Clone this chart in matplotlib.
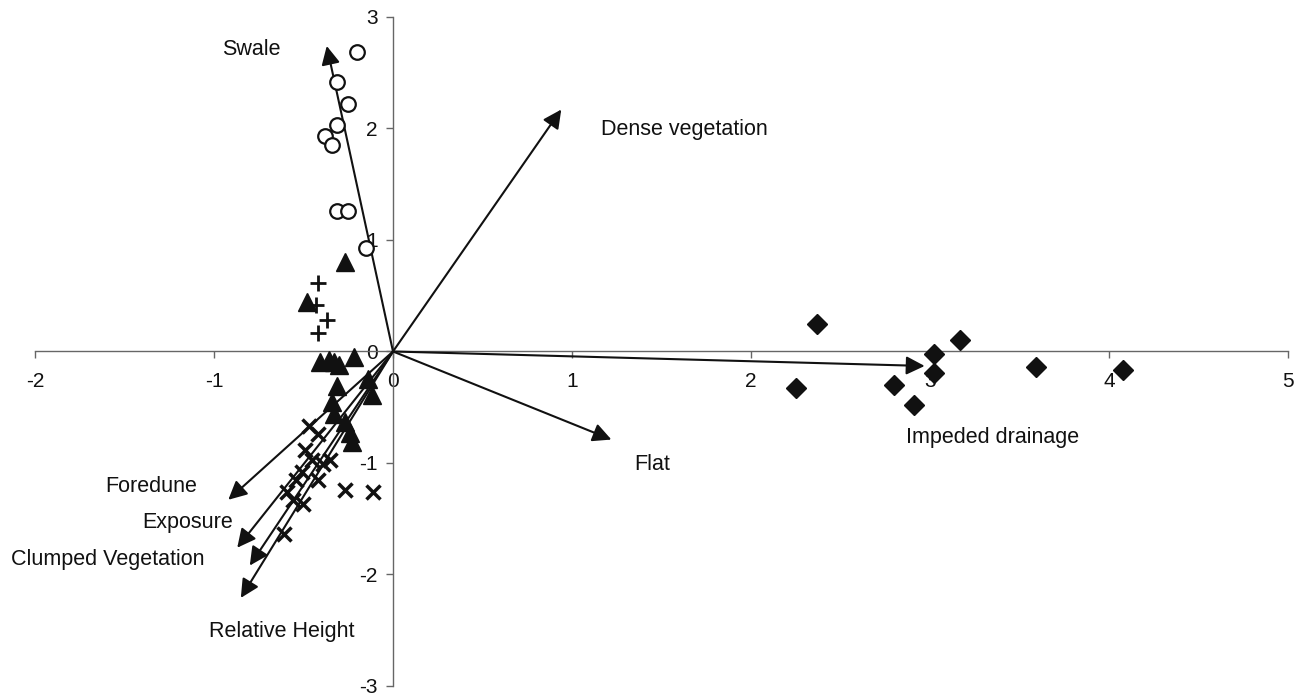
import matplotlib
matplotlib.use("Agg")
import matplotlib.pyplot as plt

plt.rcParams["font.family"] = ["Liberation Sans", "DejaVu Sans"]
plt.rcParams["axes.unicode_minus"] = False

# ── Data ──────────────────────────────────────────────────────────────────────
circle_x = [-0.20, -0.31, -0.25, -0.31, -0.38, -0.34, -0.31, -0.25, -0.15]
circle_y = [2.69, 2.42, 2.22, 2.03, 1.93, 1.85, 1.26, 1.26, 0.93]

tri_x = [-0.27, -0.48, -0.41, -0.36, -0.33, -0.30, -0.22, -0.31, -0.14,
         -0.12, -0.34, -0.33, -0.27, -0.24, -0.23]
tri_y = [0.80, 0.44, -0.09, -0.08, -0.09, -0.12, -0.05, -0.31, -0.25,
         -0.39, -0.45, -0.56, -0.63, -0.73, -0.81]

plus_x = [-0.42, -0.43, -0.37, -0.42]
plus_y = [0.61, 0.42, 0.28, 0.17]

cross_x = [-0.47, -0.42, -0.49, -0.45, -0.35, -0.39, -0.51, -0.42, -0.54,
           -0.59, -0.56, -0.50, -0.61, -0.27, -0.11]
cross_y = [-0.67, -0.74, -0.88, -0.97, -0.97, -1.01, -1.08, -1.15, -1.15,
           -1.26, -1.33, -1.37, -1.64, -1.24, -1.26]

diamond_x = [2.37, 2.25, 2.80, 2.91, 3.02, 3.02, 3.17, 3.59, 4.08]
diamond_y = [0.25, -0.33, -0.30, -0.48, -0.02, -0.19, 0.10, -0.14, -0.17]

# environmental vectors (arrow tips) and their labels
vec_names = ["Swale", "Dense vegetation", "Impeded drainage", "Flat",
             "Foredune", "Exposure", "Clumped Vegetation", "Relative Height"]
vec_x = [-0.37, 0.94, 2.97, 1.22, -0.92, -0.87, -0.80, -0.85]
vec_y = [2.74, 2.17, -0.13, -0.79, -1.33, -1.76, -1.92, -2.21]
label_x = [-0.953, 1.16, 2.865, 1.35, -1.61, -1.40, -2.135, -1.026]
label_y = [2.71, 1.99, -0.77, -1.01, -1.21, -1.53, -1.865, -2.51]

x_ticks = [-2, -1, 0, 1, 2, 3, 4, 5]
y_ticks = [-3, -2, -1, 0, 1, 2, 3]

# ── Figure ────────────────────────────────────────────────────────────────────
fig = plt.figure(figsize=(13.05, 6.96), dpi=100)
ax = fig.add_axes([0.0268, 0.0144, 0.9602, 0.9612])

ax.set_xlim(-2, 5)
ax.set_ylim(-3, 3)

# arrows
for tx, ty in zip(vec_x, vec_y):
    ax.annotate("", xy=(tx, ty), xytext=(0, 0),
                arrowprops=dict(arrowstyle="-|>", mutation_scale=28,
                                lw=1.5, color="#111111",
                                shrinkA=0, shrinkB=0), zorder=3)

ax.plot(circle_x, circle_y, "o", ms=10.5, mfc="white", mec="#111111",
        mew=1.6, ls="none", zorder=4)
ax.plot(tri_x, tri_y, "^", ms=12.5, color="#111111", ls="none", zorder=4)
ax.plot(plus_x, plus_y, "+", ms=11, mew=2.0, color="#111111", ls="none", zorder=4)
ax.plot(cross_x, cross_y, "x", ms=10, mew=2.5, color="#111111", ls="none", zorder=4)
ax.plot(diamond_x, diamond_y, "D", ms=10, color="#111111", ls="none", zorder=4)

for name, lx, ly in zip(vec_names, label_x, label_y):
    ax.text(lx, ly, name, fontsize=15.5, ha="left", va="center",
            color="#111111")

# axes through the origin
for side in ("top", "right"):
    ax.spines[side].set_visible(False)
ax.spines["left"].set_position(("data", 0))
ax.spines["bottom"].set_position(("data", 0))
for side in ("left", "bottom"):
    ax.spines[side].set_color("#666666")
    ax.spines[side].set_linewidth(1.0)

ax.set_xticks(x_ticks)
ax.set_yticks(y_ticks)
ax.set_xticklabels([str(t) for t in x_ticks])
ax.set_yticklabels([str(t) for t in y_ticks])
ax.tick_params(axis="both", direction="out", length=5, width=1.0,
               color="#666666", labelsize=15, labelcolor="#111111")
ax.tick_params(axis="x", pad=10)
ax.tick_params(axis="y", pad=6)
ax.patch.set_alpha(0)

fig.savefig("out.png", dpi=100, facecolor="white")
